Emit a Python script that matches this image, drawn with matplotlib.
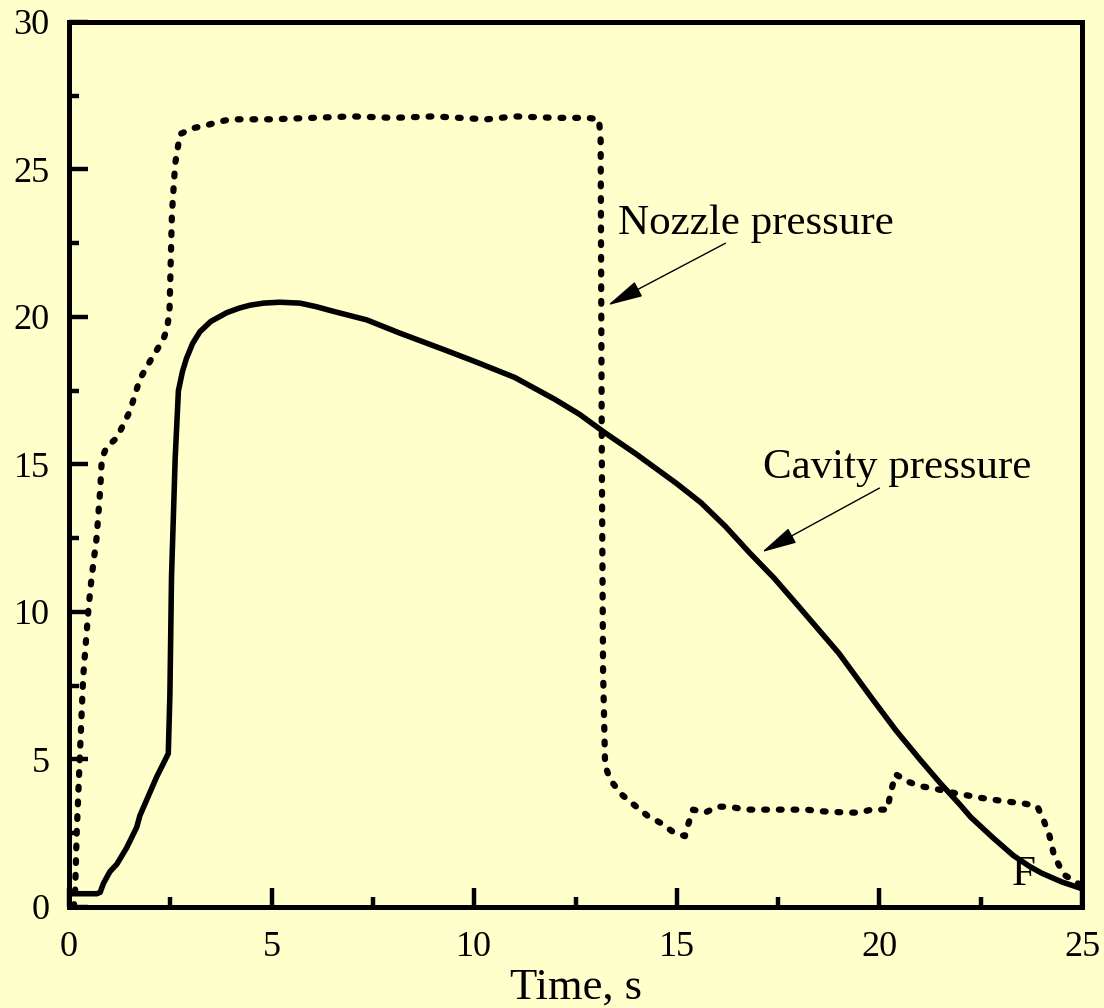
import matplotlib
matplotlib.use("Agg")
import matplotlib.pyplot as plt

# Nozzle pressure (dotted)
nozzle_t = [0.12, 0.15, 0.19, 0.27, 0.35, 0.48, 0.56, 0.68, 0.77, 0.81, 0.93,
            1.18, 1.5, 1.75, 2.0, 2.33, 2.42, 2.48, 2.5, 2.54, 2.62, 2.74,
            3.06, 3.4, 3.65, 3.98, 5.0, 6.0, 7.0, 8.0, 9.0, 10.3, 11.0, 12.0,
            12.8, 13.08, 13.12, 13.15, 13.18, 13.23, 13.36, 13.65, 14.0, 14.27,
            14.6, 14.9, 15.2, 15.28, 15.4, 15.7, 16.0, 16.3, 16.7, 17.55, 18.2,
            18.5, 19.2, 19.5, 19.8, 20.2, 20.27, 20.4, 20.7, 21.0, 21.4, 21.9,
            22.5, 23.0, 23.6, 23.9, 24.05, 24.2, 24.3, 24.4, 24.55, 24.9, 25.0]
nozzle_p = [0.0, 0.5, 2.5, 5.2, 7.8, 10.1, 11.2, 12.5, 14.15, 15.2, 15.6,
            15.9, 16.8, 17.9, 18.5, 19.25, 19.6, 20.2, 21.3, 23.5, 25.2, 26.2,
            26.4, 26.5, 26.6, 26.7, 26.7, 26.75, 26.8, 26.75, 26.8, 26.7, 26.8,
            26.75, 26.75, 26.7, 26.0, 15.0, 8.0, 4.8, 4.3, 3.8, 3.4, 3.1,
            2.85, 2.55, 2.4, 2.8, 3.3, 3.2, 3.4, 3.4, 3.3, 3.3, 3.3,
            3.25, 3.2, 3.2, 3.3, 3.3, 3.85, 4.5, 4.25, 4.1, 4.0, 3.85,
            3.7, 3.6, 3.5, 3.4, 2.95, 2.4, 1.8, 1.5, 1.1, 0.8, 0.7]

# Cavity pressure (solid)
cavity_t = [0.0, 0.69, 0.77, 0.85, 1.01, 1.18, 1.42, 1.67, 1.75, 2.16, 2.45,
            2.49, 2.53, 2.62, 2.7, 2.8, 2.9, 3.05, 3.23, 3.5, 3.9, 4.2, 4.47,
            4.8, 5.2, 5.7, 6.1, 6.5, 7.35, 8.17, 9.24, 10.0, 11.0, 12.0, 12.6,
            13.2, 14.0, 15.0, 15.6, 16.2, 16.8, 17.4, 18.0, 19.0, 19.8, 20.4,
            21.0, 21.5, 22.0, 22.25, 22.8, 23.3, 23.7, 24.0, 24.5, 25.0]
cavity_p = [0.45, 0.45, 0.5, 0.8, 1.2, 1.45, 2.0, 2.7, 3.1, 4.4, 5.2,
            7.2, 11.2, 15.2, 17.5, 18.15, 18.6, 19.1, 19.5, 19.85, 20.15, 20.3,
            20.4, 20.47, 20.5, 20.47, 20.35, 20.2, 19.9, 19.45, 18.9, 18.5,
            17.95, 17.2, 16.7, 16.1, 15.35, 14.35, 13.7, 12.9, 12.0, 11.15,
            10.2, 8.6, 7.1, 6.0, 5.0, 4.2, 3.45, 3.05, 2.35, 1.75, 1.38, 1.15,
            0.85, 0.62]

bg = "#ffffcc"
plt.rcParams["font.family"] = ["Liberation Serif", "DejaVu Serif"]

fig = plt.figure(figsize=(11.04, 10.08), dpi=100, facecolor=bg)
ax = fig.add_axes([0.0625, 0.1002, 0.9176, 0.878])
ax.set_facecolor(bg)

ax.plot(nozzle_t, nozzle_p, color="black", lw=4.5, linestyle=(0, (0.45, 1.9)),
        dash_capstyle="round", dash_joinstyle="round")
ax.plot(cavity_t, cavity_p, color="black", lw=4, solid_joinstyle="round",
        solid_capstyle="round")

ax.set_xlim(0, 25)
ax.set_ylim(0, 30)
ax.set_xticks([0, 5, 10, 15, 20, 25])
ax.set_xticks([2.5, 7.5, 12.5, 17.5, 22.5], minor=True)
ax.set_yticks([0, 5, 10, 15, 20, 25, 30])
ax.set_yticks([2.5, 7.5, 12.5, 17.5, 22.5, 27.5], minor=True)
ax.tick_params(which="major", direction="in", length=14, width=3.2,
               labelsize=26)
ax.tick_params(axis="y", which="major", pad=14)
ax.tick_params(axis="x", which="major", pad=17)
ax.tick_params(which="minor", direction="in", length=7, width=3.2)
for sp in ax.spines.values():
    sp.set_linewidth(3.6)

ax.set_xlabel("Time, s", fontsize=32, labelpad=3)

head = "-|>,head_length=0.85,head_width=0.2"
ax.text(16.94, 22.8, "Nozzle pressure", fontsize=31, ha="center", va="baseline")
ax.annotate("", xy=(13.3, 20.4), xytext=(16.2, 22.5),
            arrowprops=dict(arrowstyle=head, color="black", lw=1,
                            mutation_scale=26, shrinkA=0, shrinkB=0))
ax.text(20.43, 14.55, "Cavity pressure", fontsize=31, ha="center", va="baseline")
ax.annotate("", xy=(17.1, 12.03), xytext=(20.0, 14.2),
            arrowprops=dict(arrowstyle=head, color="black", lw=1,
                            mutation_scale=26, shrinkA=0, shrinkB=0))
ax.text(23.55, 0.75, "F", fontsize=31, ha="center", va="baseline")

fig.savefig("out.png", dpi=100, facecolor=bg)
